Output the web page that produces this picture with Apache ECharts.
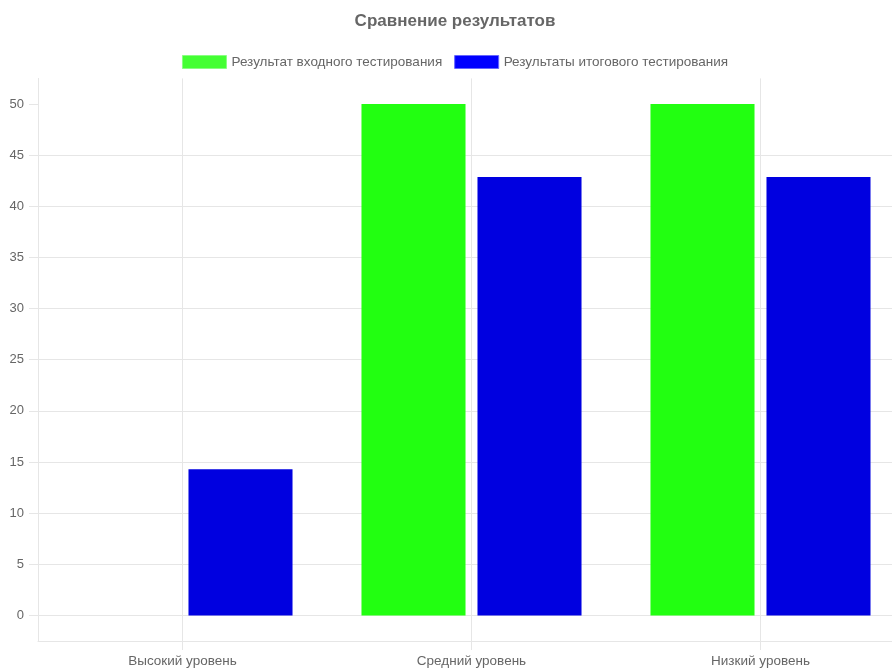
<!DOCTYPE html>
<html>
<head>
<meta charset="utf-8">
<script src="https://cdn.jsdelivr.net/npm/echarts@6/dist/echarts.min.js"></script>
<style>
  html, body { margin: 0; padding: 0; background: #fff; overflow: hidden; }
  /* the canvas is a bit wider than the window, so its right edge is clipped */
  #chart { width: 910px; height: 668px; }
</style>
</head>
<body>
<div id="chart"></div>
<script>
// Test results per level (percent of students)
const categories = ['Высокий уровень', 'Средний уровень', 'Низкий уровень'];
const entryResults = [0, 50, 50];
const finalResults = [14.29, 42.86, 42.86];
const yTicks = [0, 5, 10, 15, 20, 25, 30, 35, 40, 45, 50];
const seriesNames = ['Результат входного тестирования', 'Результаты итогового тестирования'];

const FONT = '"Liberation Sans", Arial, Helvetica, sans-serif';
const GRID_COLOR = '#e6e6e6';
const TEXT_COLOR = '#666';

const chart = echarts.init(document.getElementById('chart'), null, { renderer: 'canvas' });

chart.setOption({
  animation: false,
  textStyle: { fontFamily: FONT },
  title: {
    text: 'Сравнение результатов',
    left: 'center',
    top: 8,
    textStyle: { fontFamily: FONT, fontSize: 17, fontWeight: 'bold', color: TEXT_COLOR }
  },
  legend: {
    left: 'center',
    top: 55,
    padding: 0,
    itemWidth: 44,
    itemHeight: 13,
    itemGap: 12,
    icon: 'rect',
    textStyle: { fontFamily: FONT, fontSize: 13.5, color: TEXT_COLOR },
    data: [
      { name: seriesNames[0], itemStyle: { color: '#44ff33', borderColor: '#88ff80', borderWidth: 1 } },
      { name: seriesNames[1], itemStyle: { color: '#0000ff', borderColor: '#6666ff', borderWidth: 1 } }
    ]
  },
  grid: { left: 38, right: 5, top: 78.4, bottom: 24.2, containLabel: false },
  xAxis: {
    type: 'category',
    data: categories,
    axisLine: { show: true, onZero: false, lineStyle: { color: GRID_COLOR } },
    axisTick: { show: true, alignWithLabel: true, length: 9, lineStyle: { color: GRID_COLOR } },
    axisLabel: { margin: 13, fontFamily: FONT, fontSize: 13.5, color: TEXT_COLOR },
    splitLine: { show: true, alignWithLabel: true, lineStyle: { color: GRID_COLOR } }
  },
  yAxis: {
    type: 'value',
    min: -2.5,
    max: 52.5,
    splitNumber: 11,
    axisLine: { show: true, lineStyle: { color: GRID_COLOR } },
    axisTick: { show: true, length: 9, customValues: yTicks, lineStyle: { color: GRID_COLOR } },
    axisLabel: { margin: 14, fontFamily: FONT, fontSize: 13, color: TEXT_COLOR, customValues: yTicks },
    splitLine: { show: true, showMaxLine: false, lineStyle: { color: GRID_COLOR } }
  },
  series: [
    {
      name: seriesNames[0],
      type: 'bar',
      data: entryResults,
      barWidth: '36%',
      barGap: '11.5%',
      itemStyle: { color: '#22ff11' }
    },
    {
      name: seriesNames[1],
      type: 'bar',
      data: finalResults,
      barWidth: '36%',
      barGap: '11.5%',
      itemStyle: { color: '#0000e0' }
    }
  ]
});
</script>
</body>
</html>
